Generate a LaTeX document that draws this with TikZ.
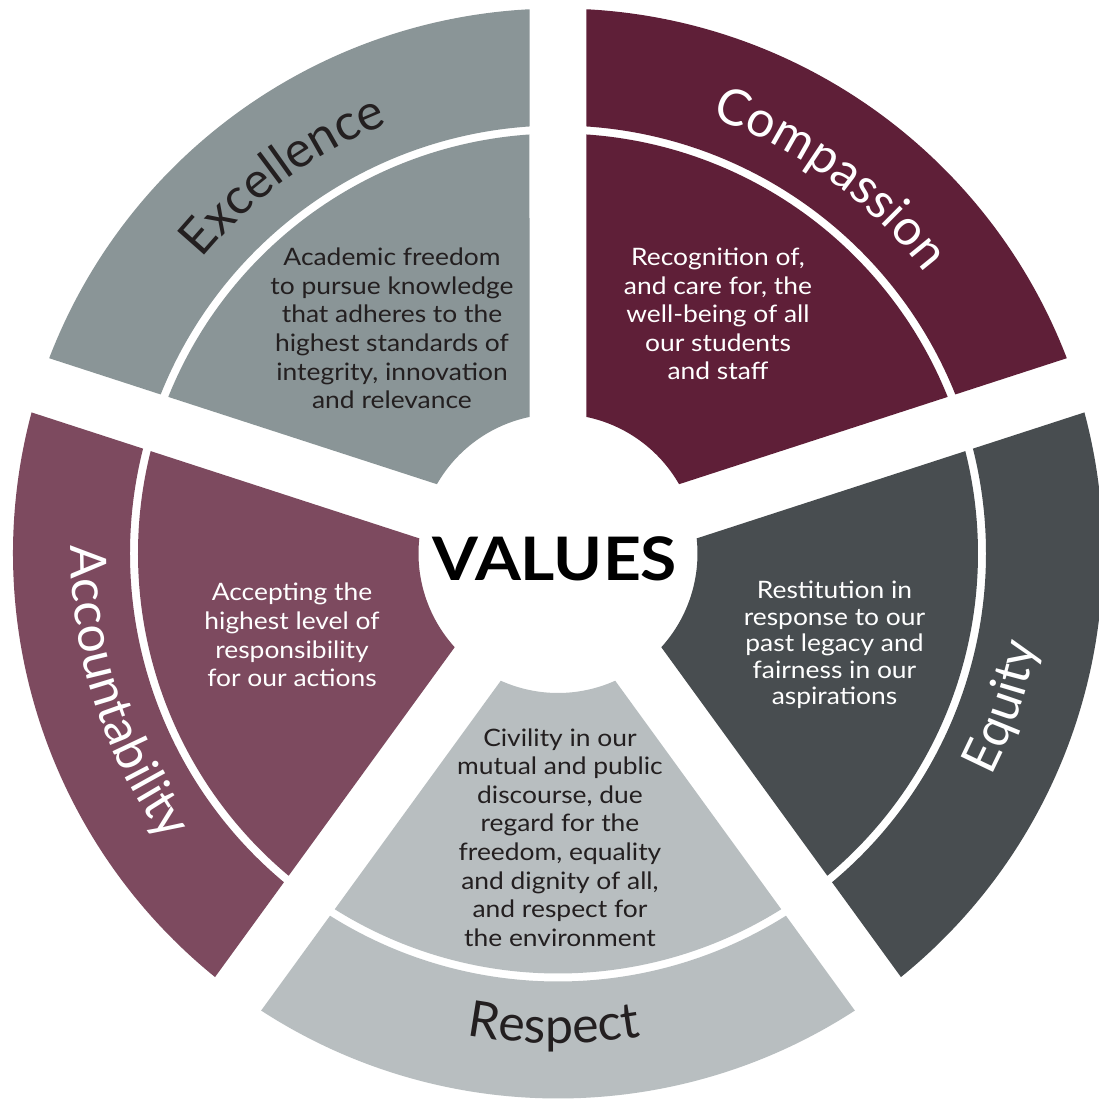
\documentclass[tikz,border=0pt]{standalone}
\usepackage{fontspec}
\setmainfont{Lato}
\newfontfamily\descfamily[FakeStretch=1.1]{Lato}
\newfontfamily\valuesfamily[FakeStretch=1.1]{Lato}
\usetikzlibrary{decorations.text}

\definecolor{excgrey}{HTML}{8A9597}
\definecolor{compred}{HTML}{5F1F38}
\definecolor{equgrey}{HTML}{484D50}
\definecolor{resgrey}{HTML}{B8BEC0}
\definecolor{accmauve}{HTML}{7D4A5F}
\definecolor{inkdark}{HTML}{231F20}

\newcommand{\halfgap}{28.5}
\newcommand{\titlefont}{\fontsize{50}{60}\selectfont}
% #1 colour, #2 start angle, #3 end angle, #4 inner radius, #5 outer radius
\newcommand{\valuewedge}[5]{%
  \fill[#1] ({#2+asin(\halfgap/#5)}:#5)
    arc[start angle={#2+asin(\halfgap/#5)},end angle={#3-asin(\halfgap/#5)},radius=#5]
    -- ({#3-asin(\halfgap/#4)}:#4)
    arc[start angle={#3-asin(\halfgap/#4)},end angle={#2+asin(\halfgap/#4)},radius=#4]
    -- cycle;}

\begin{document}
\begin{tikzpicture}[x=1pt,y=1pt,
    desc/.style={align=center,font=\descfamily\fontsize{24}{28.6}\selectfont},
    light desc/.style={desc,text=white},
    dark desc/.style={desc,text=inkdark},
    title path/.style={decorate,decoration={text along path,text align=center,text={#1}}}]

        \useasboundingbox (-558,-549.5) rectangle (541,553.5);
        \fill[white] (-558,-549.5) rectangle (541,553.5);

        % Define wedges
        \valuewedge{compred}{18}{90}{139.5}{420}
        \valuewedge{compred}{18}{90}{428}{545}
        \valuewedge{excgrey}{90}{162}{139.5}{420}
        \valuewedge{excgrey}{90}{162}{428}{545}
        \valuewedge{accmauve}{162}{234}{139.5}{420}
        \valuewedge{accmauve}{162}{234}{428}{545}
        \valuewedge{resgrey}{234}{306}{139.5}{420}
        \valuewedge{resgrey}{234}{306}{428}{545}
        \valuewedge{equgrey}{306}{378}{139.5}{420}
        \valuewedge{equgrey}{306}{378}{428}{545}

        % Draw titles
        \path[title path={|\titlefont\color{white}|Compassion}]
            (84:462) arc[start angle=84,end angle=24,radius=462];
        \path[title path={|\titlefont\color{inkdark}|Excellence}]
            (156:462) arc[start angle=156,end angle=96,radius=462];
        \path[title path={|\titlefont\color{white}|Accountability}]
            (167.7:487) arc[start angle=167.7,end angle=227.7,radius=487];
        \path[title path={|\titlefont\color{inkdark}|Respect}]
            (-120.5:490) arc[start angle=-120.5,end angle=-60.5,radius=490];
        \path[title path={|\titlefont\color{white}|Equity}]
            (-49:487) arc[start angle=-49,end angle=11,radius=487];

        % Define texts
        \node[light desc] (compdesc) at (160,239.5)
            {Recognition of,\\and care for, the\\well-being of all\\our students\\and staff};
        \node[dark desc] (excdesc) at (-166,225)
            {Academic freedom\\to pursue knowledge\\that adheres to the\\highest standards of\\integrity, innovation\\and relevance};
        \node[light desc] (accdesc) at (-266,-81.5)
            {Accepting the\\highest level of\\responsibility\\for our actions};
        \node[dark desc] (resdesc) at (2,-284)
            {Civility in our\\mutual and public\\discourse, due\\regard for the\\freedom, equality\\and dignity of all,\\and respect for\\the environment};
        \node[light desc,font=\descfamily\fontsize{24}{26.4}\selectfont] (equdesc) at (276.5,-91.5)
            {Restitution in\\response to our\\past legacy and\\fairness in our\\aspirations};

        \node[font=\valuesfamily\fontsize{60}{72}\selectfont\bfseries,text=black] (values) at (-3,-5.5) {VALUES};

\end{tikzpicture}
\end{document}
